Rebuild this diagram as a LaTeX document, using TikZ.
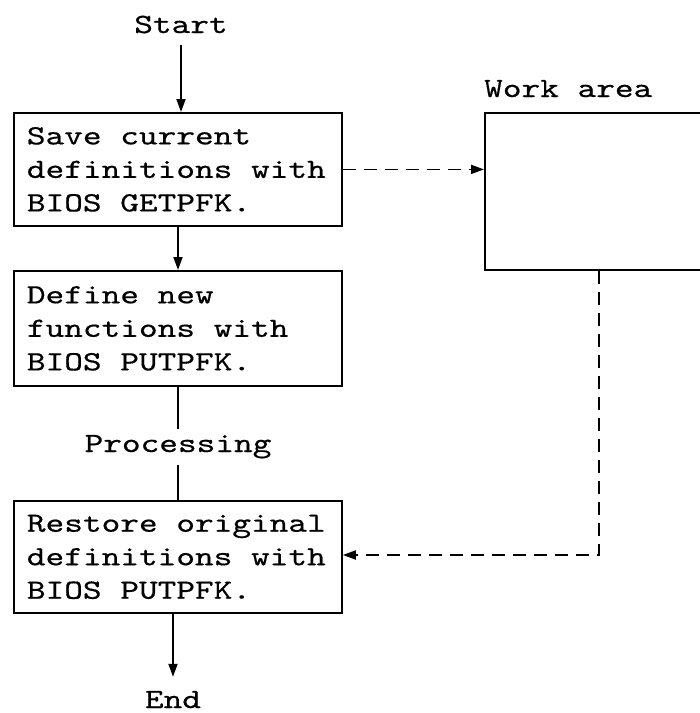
\documentclass[tikz,border=0pt]{standalone}
\usepackage{fontspec}
\usetikzlibrary{arrows.meta}
% wide typewriter face
\newfontfamily\twfont{lmmono10-regular}[Extension=.otf, FakeStretch=1.28, FakeBold=0.5]
\tikzset{
  txt/.style={font=\fontsize{27.8}{33.5}\selectfont\twfont, inner sep=0pt},
  stepbox/.style={txt, draw, line width=1.8pt, anchor=north west,
    inner xsep=13pt, text width=302pt, align=flush left},
  arr/.style={line width=1.8pt, -{Triangle[length=13pt,width=9pt]}},
  plain/.style={line width=1.8pt},
  dashline/.style={dash pattern=on 13pt off 8pt},
}
\begin{document}
\begin{tikzpicture}[x=1pt,y=-1pt]
\useasboundingbox (0,0) rectangle (700,713);

% labels
\node[txt, anchor=base] (start) at (181,33) {Start};
\node[txt, anchor=base west] (wlabel) at (484,97) {Work area};
\node[txt, anchor=base, inner ysep=6pt] (proc) at (178,452) {Processing};
\node[txt, anchor=base] (endn) at (173,708) {End};

% boxes
\node[stepbox, minimum height=113pt] (box1) at (13,112)
  {Save current\\definitions with\\BIOS GETPFK.};
\node[stepbox, minimum height=115pt] (box2) at (13,270)
  {Define new\\functions with\\BIOS PUTPFK.};
\node[stepbox, minimum height=112pt] (box3) at (13,500)
  {Restore original\\definitions with\\BIOS PUTPFK.};
\node[draw, line width=1.8pt, anchor=north west, minimum width=240pt,
  minimum height=157pt, inner sep=0pt] (work) at (484,112) {};

% main flow
\draw[arr] ([yshift=-12pt]start.base) -- (start.base |- box1.north);
\draw[arr] (box1.south -| 178,0) -- (box2.north -| 178,0);
\draw[plain] (proc |- box2.south) -- (proc.north);
\draw[plain] (proc.south) -- (proc |- box3.north);
\draw[arr] (endn |- box3.south) -- ([yshift=14pt]endn.north);

% work area traffic
\coordinate (corner) at (599,555);
\draw[arr, dashline] (box1.east) -- (box1.east -| work.west);
\draw[arr, dashline] (corner |- work.south) -- (corner) -- (corner -| box3.east);
\end{tikzpicture}
\end{document}
